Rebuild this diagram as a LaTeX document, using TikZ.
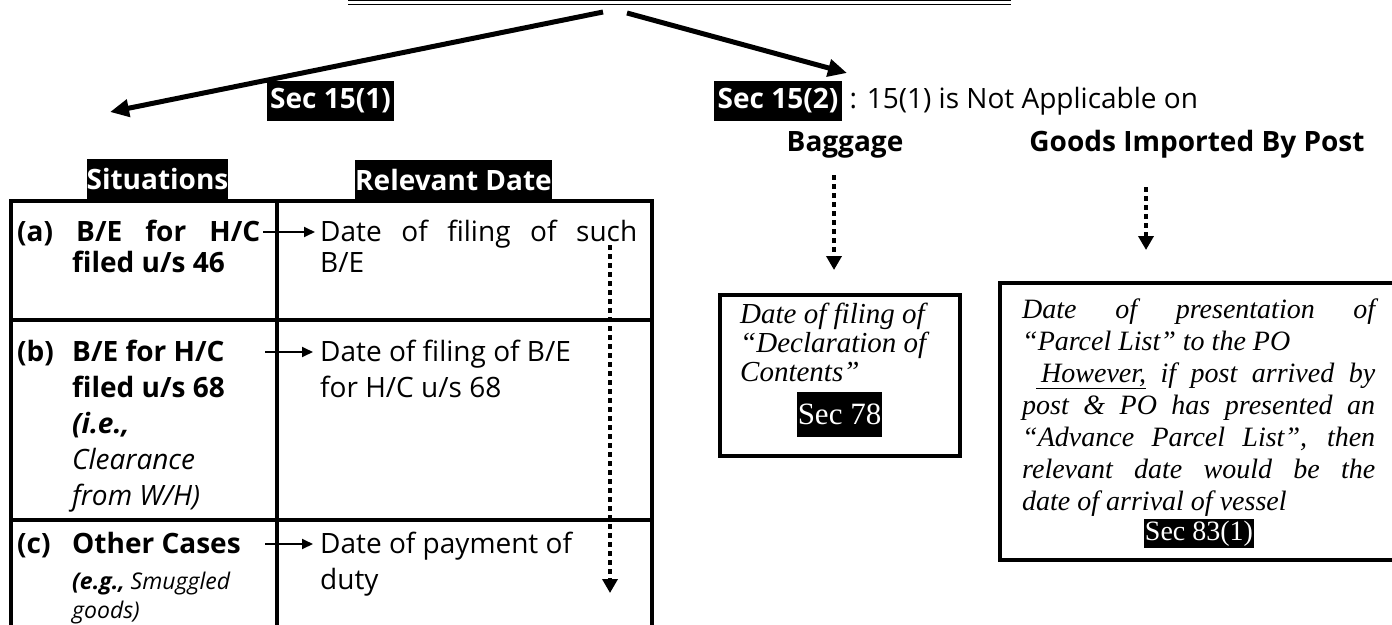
\documentclass[tikz,border=0pt]{standalone}
\usepackage{fontspec}
\setmainfont{Open Sans}
\newfontfamily\bookfont{Liberation Serif}
\usetikzlibrary{arrows.meta}

\newcommand\bodysize{\fontsize{28}{36}\selectfont}
\newcommand\smallsize{\fontsize{23}{29}\selectfont}
\newcommand\notesize{\bookfont\itshape\fontsize{29}{29}\selectfont}
\newcommand\postsize{\bookfont\itshape\fontsize{28}{32}\selectfont}
\newcommand\itemlab[1]{\makebox[55pt][l]{#1}}
\newcommand\itemind{\hspace*{55pt}}

\tikzset{
  highlight/.style={fill=black, text=white, font=\bodysize\bfseries,
    inner xsep=0pt, inner ysep=0pt, minimum height=40pt},
  sechl/.style={fill=black, text=white, font=\bookfont\fontsize{#1}{#1}\selectfont,
    inner xsep=1pt, inner ysep=0pt},
  textline/.style={anchor=base west, inner sep=0pt},
  heading/.style={anchor=base, inner sep=0pt, font=\bodysize\bfseries},
  branch/.style={line width=5pt, -{Triangle[length=19pt,width=17pt]}},
  grid/.style={line width=4pt},
  frame/.style={draw, line width=4pt, inner sep=0pt},
  pointer/.style={line width=1.8pt, -{Triangle[length=11pt,width=10pt]}},
  dotflow/.style={line width=4.5pt, dash pattern=on 4.5pt off 4.5pt,
    -{Triangle[length=14pt,width=15pt]}},
}

\begin{document}
\begin{tikzpicture}[x=1pt,y=-1pt]
\useasboundingbox (0,0) rectangle (1392,624);
\clip (0,0) rectangle (1392,624);

% double rule of the title
\draw[line width=1.2pt] (348,0.8) -- (1011,0.8);
\draw[line width=1.2pt] (348,4.6) -- (1011,4.6);

% two branches
\coordinate (rootL) at (603,12);
\coordinate (rootR) at (627,13);
\coordinate (tipL) at (110,112);
\coordinate (tipR) at (847,73);
\draw[branch] (rootL) -- (tipL);
\draw[branch] (rootR) -- (tipR);

\node[highlight, minimum width=127pt] (s151) at (330.5,101) {Sec 15(1)};
\node[highlight, minimum width=128pt] (s152) at (778,101) {Sec 15(2)};
\node[textline, font=\bodysize] (na) at (s152.base east) {\ : 15(1) is Not Applicable on};

% table of Sec 15(1)
\draw[grid] (11,640) -- (11,201) -- (652,201) -- (652,640);
\draw[grid] (277,201) -- (277,640);
\draw[grid] (11,320) -- (652,320);
\draw[grid] (11,520) -- (652,520);

\node[highlight, minimum width=139pt] (sit) at (157.5,179) {Situations};
\node[highlight, minimum width=193pt] (rel) at (453.5,179.5) {Relevant Date};

% row (a)
\node[textline] (rowa) at (17,241) {\parbox[t]{243pt}{\fontsize{28}{31}\selectfont\bfseries
  \makebox[243pt][s]{(a)\hfill B/E\hfill for\hfill H/C}\\\itemind filed u/s 46}};
\node[textline] (datea) at (320,241) {\parbox[t]{317pt}{\fontsize{28}{31}\selectfont
  \makebox[317pt][s]{Date of filing of such}\\B/E}};

% row (b)
\node[textline] (rowb) at (17,361) {\parbox[t]{250pt}{\bodysize\bfseries
  \itemlab{(b)}B/E for H/C\\\itemind filed u/s 68\\\itemind\textit{(i.e.,}\\
  \itemind{\mdseries\itshape Clearance}\\\itemind{\mdseries\itshape from W/H)}}};
\node[textline] (dateb) at (320,361) {\parbox[t]{320pt}{\bodysize
  Date of filing of B/E\\for H/C u/s 68}};

% row (c)
\node[textline] (rowc) at (17,553) {\bodysize\bfseries\itemlab{(c)}Other Cases};
\node[textline] (rowcnote) at (72,589) {\parbox[t]{200pt}{\smallsize\itshape
  \textbf{(e.g.,} Smuggled\\goods)}};
\node[textline] (datec) at (320,553) {\parbox[t]{300pt}{\bodysize
  Date of payment of\\duty}};

% pointers from situation to date
\coordinate (pa1) at (263,232);  \coordinate (pa2) at (315,232);
\coordinate (pb1) at (265,352);  \coordinate (pb2) at (313,352);
\coordinate (pc1) at (265,544);  \coordinate (pc2) at (313,544);
\draw[pointer] (pa1) -- (pa2);
\draw[pointer] (pb1) -- (pb2);
\draw[pointer] (pc1) -- (pc2);

% dotted downward flow in the date column
\coordinate (fa) at (610,245);
\coordinate (fb) at (610,593);
\draw[dotflow, line width=4pt, dash pattern=on 5pt off 4pt] (fa) -- (fb);

% Sec 15(2) exceptions
\node[heading] (bag) at (845,151) {Baggage};
\node[heading] (post) at (1197,151) {Goods Imported By Post};

\coordinate (bag1) at (834,175);  \coordinate (bag2) at (834,270);
\coordinate (post1) at (1146,187); \coordinate (post2) at (1146,250);
\draw[dotflow] (bag1) -- (bag2);
\draw[dotflow] (post1) -- (post2);

% baggage box
\node[frame, minimum width=240pt, minimum height=161pt] (bagbox) at (840,375.5) {};
\node[textline] (bagtext) at (740,323) {\parbox[t]{215pt}{\notesize
  Date of filing of\\“Declaration of\\Contents”}};
\node[sechl=31, minimum height=45pt, minimum width=83pt] (s78) at (839.5,414.5) {Sec 78};

% goods by post box
\draw[line width=4pt] (1400,283) -- (1000,283) -- (1000,560) -- (1400,560);
\node[textline] (posttext) at (1022,318) {\parbox[t]{353pt}{\postsize
  Date of presentation of\linebreak “Parcel List” to the PO\par
  \hspace*{14pt}\underline{\hspace{5pt}However,} if post arrived by\linebreak
  post \& PO has presented an\linebreak “Advance Parcel List”, then\linebreak
  relevant date would be the\linebreak date of arrival of vessel}};
\node[sechl=28, minimum height=29pt, minimum width=106pt] (s831) at (1199,533.5) {Sec 83(1)};
\end{tikzpicture}
\end{document}
